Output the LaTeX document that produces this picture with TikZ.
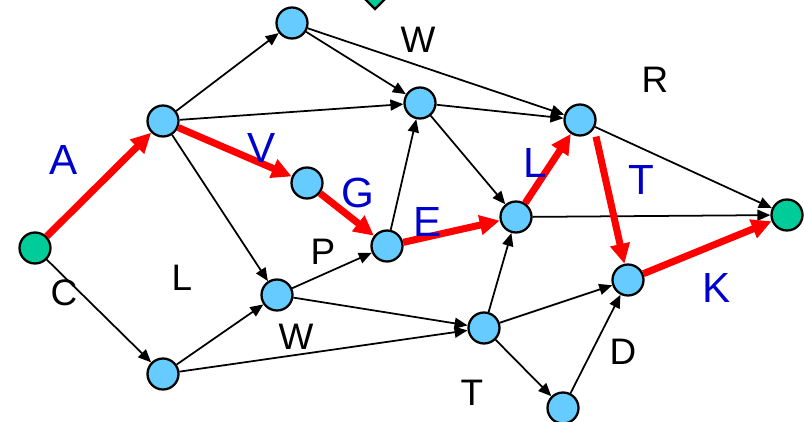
\documentclass[tikz,border=0pt]{standalone}
\usepackage{fontspec}
\setmainfont{Liberation Sans}
\usetikzlibrary{arrows.meta, shapes.geometric}
\definecolor{nodeblue}{RGB}{102,204,255}
\definecolor{termgreen}{RGB}{0,204,153}
\definecolor{lblblue}{RGB}{0,0,204}

\begin{document}
\begin{tikzpicture}[x=0.02cm, y=-0.02cm,
    vtx/.style={circle, draw, line width=1.3pt, fill=nodeblue, minimum size=0.62cm, inner sep=0pt},
    term/.style={vtx, fill=termgreen},
    edge/.style={-{Triangle[length=0.26cm, width=0.22cm]}, line width=1pt},
    crit/.style={-{Triangle[length=0.4cm, width=0.38cm]}, line width=4pt, red},
    lbl/.style={font=\fontsize{21}{25}\selectfont},
    clbl/.style={font=\fontsize{24}{28}\selectfont, text=lblblue}]
  \useasboundingbox (0,0) rectangle (804,422);

  % vertices
  \node[term] (s) at (35,248) {};
  \node[vtx] (a) at (163,121) {};
  \node[vtx] (top) at (292,23) {};
  \node[vtx] (m) at (420,103) {};
  \node[vtx] (v) at (307,183) {};
  \node[vtx] (g) at (387,246) {};
  \node[vtx] (l) at (277,295) {};
  \node[vtx] (b) at (163,374) {};
  \node[vtx] (f) at (516,217) {};
  \node[vtx] (r) at (580,120) {};
  \node[term] (t) at (787,215) {};
  \node[vtx] (d) at (628,280) {};
  \node[vtx] (x) at (484,328) {};
  \node[vtx] (y) at (563,408) {};
  \node[diamond, draw, line width=1.3pt, fill=termgreen,
        minimum size=0.5cm, inner sep=0pt] (top2) at (375,-3) {};

  % plain activities
  \draw[edge] (a) -- (top);
  \draw[edge] (top) -- (m);
  \draw[edge] (top) -- (r);
  \draw[edge] (a) -- (m);
  \draw[edge] (a) -- (l);
  \draw[edge] (g) -- (m);
  \draw[edge] (m) -- (r);
  \draw[edge] (m) -- (f);
  \draw[edge] (l) -- (g);
  \draw[edge] (s) -- (b);
  \draw[edge] (b) -- (l);
  \draw[edge] (b) -- (x);
  \draw[edge] (l) -- (x);
  \draw[edge] (x) -- (f);
  \draw[edge] (x) -- (d);
  \draw[edge] (x) -- (y);
  \draw[edge] (y) -- (d);
  \draw[edge] (f) -- (t);
  \draw[edge] (r) -- (t);

  % critical path
  \draw[crit] (s) -- (a);
  \draw[crit] (a) -- (v);
  \draw[crit] (v) -- (g);
  \draw[crit] (g) -- (f);
  \draw[crit] (f) -- (r);
  \draw[crit] ([xshift=0.32cm]r.south) -- (d);
  \draw[crit] (d) -- (t);

  % labels
  \node[lbl] (lw1) at (418,40) {W};
  \node[lbl] (lr) at (655,80) {R};
  \node[lbl] (ll) at (182,278) {L};
  \node[lbl] (lc) at (64,293) {C};
  \node[lbl] (lp) at (323,252) {P};
  \node[lbl] (lw2) at (296,337) {W};
  \node[lbl] (lt) at (472,393) {T};
  \node[lbl] (ld) at (623,352) {D};
  \node[clbl] (ca) at (64,160) {A};
  \node[clbl] (cv) at (262,148) {V};
  \node[clbl] (cg) at (358,193) {G};
  \node[clbl] (ce) at (428,222) {E};
  \node[clbl] (cl) at (535,163) {L};
  \node[clbl] (ct) at (641,180) {T};
  \node[clbl] (ck) at (717,288) {K};
\end{tikzpicture}
\end{document}
